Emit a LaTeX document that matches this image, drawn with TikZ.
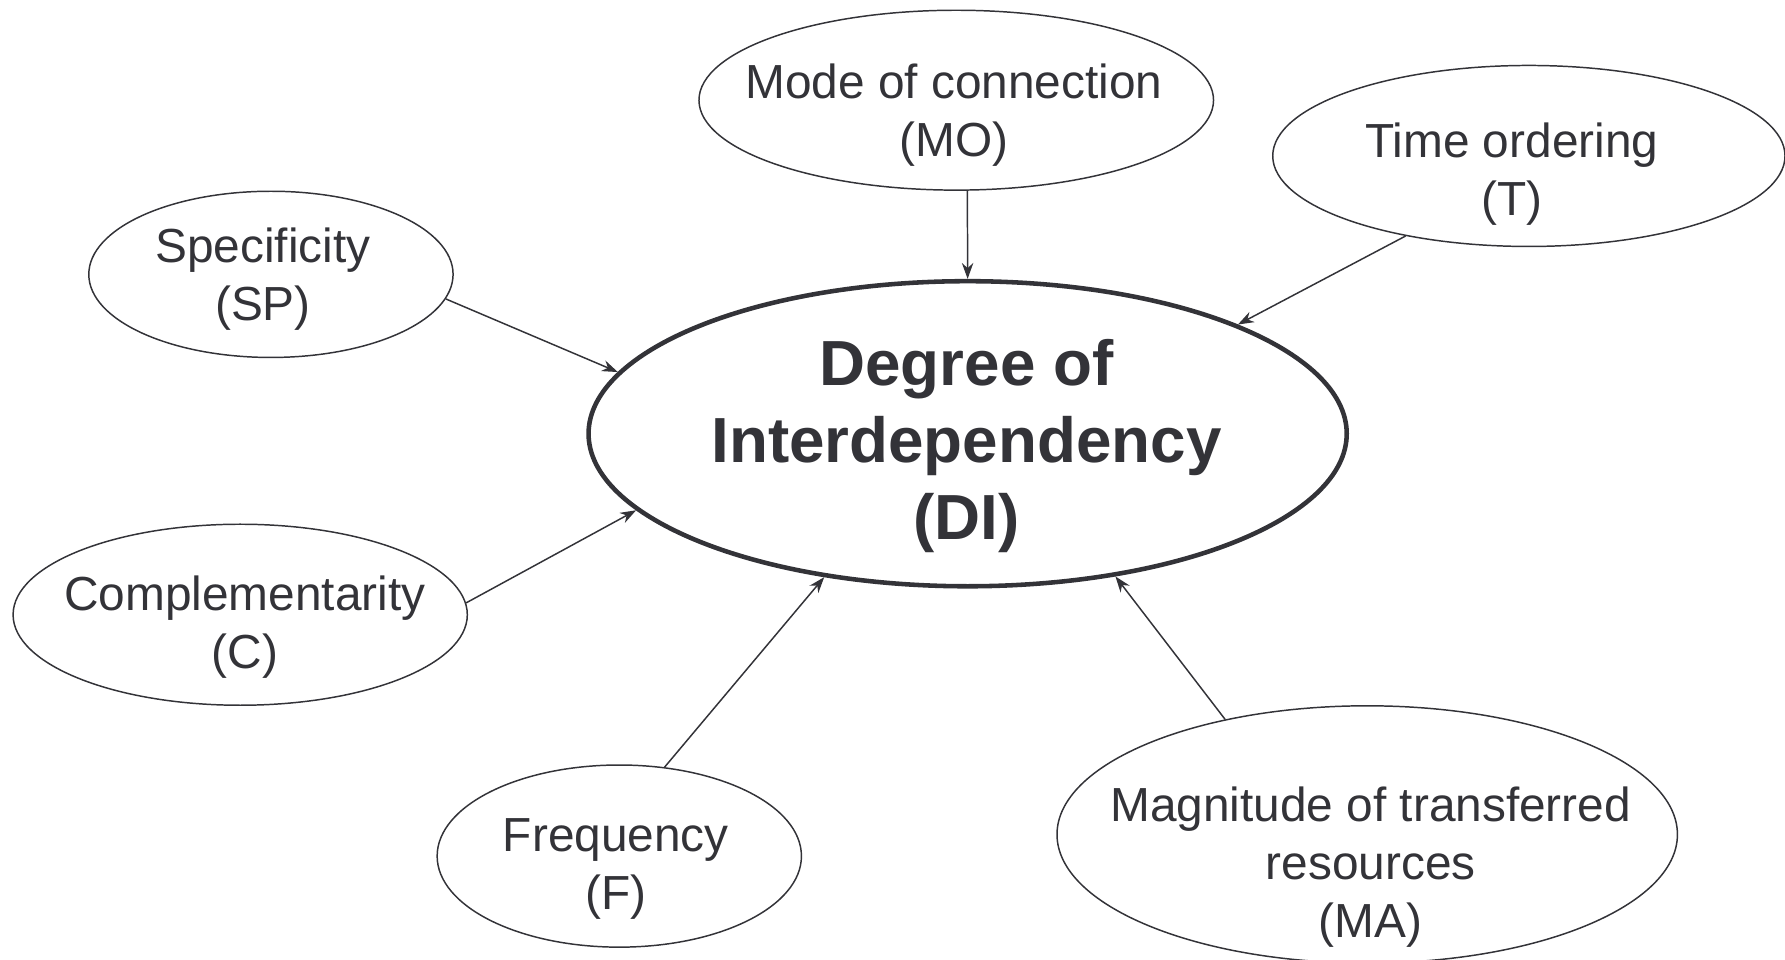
\documentclass[tikz,border=0pt]{standalone}
\usepackage{fontspec}
\setmainfont{Liberation Sans}
\usetikzlibrary{shapes.geometric,arrows.meta}
\definecolor{ink}{HTML}{333338}
\tikzset{
  factor/.style={ellipse, draw=ink, line width=1.3pt, inner sep=0pt},
  core/.style={ellipse, draw=ink, line width=4pt, inner sep=0pt},
  lbl/.style={text=ink, align=center, font=\fontsize{42}{51}\selectfont},
  corelbl/.style={text=ink, align=center, font=\bfseries\fontsize{56}{67.5}\selectfont},
  link/.style={draw=ink, line width=1.3pt, -{Stealth[length=14pt,width=10pt]}}
}
\begin{document}
\begin{tikzpicture}[x=1pt,y=-1pt]
\useasboundingbox (0,0) rectangle (1568,843);
% ellipses
\node[factor, minimum width=452pt, minimum height=158pt] (mo) at (840,88) {};
\node[factor, minimum width=450pt, minimum height=159pt] (t) at (1343,137) {};
\node[factor, minimum width=320pt, minimum height=146pt] (sp) at (238,241) {};
\node[core, minimum width=666pt, minimum height=268pt] (di) at (850,381) {};
\node[factor, minimum width=399pt, minimum height=159pt] (c) at (211,540) {};
\node[factor, minimum width=320pt, minimum height=160pt] (f) at (544,752) {};
\node[factor, minimum width=545pt, minimum height=226pt] (ma) at (1201,733) {};
% labels
\node[lbl] (mot) at (838,101) {Mode of connection\\(MO)};
\node[lbl] (tt) at (1328,153) {Time ordering\\(T)};
\node[lbl] (spt) at (231,245) {Specificity\\(SP)};
\node[corelbl] (dit) at (849,392) {Degree of\\Interdependency\\(DI)};
\node[lbl] (ct) at (215,551) {Complementarity\\(C)};
\node[lbl] (ft) at (541,763) {Frequency\\(F)};
\node[lbl] (mat) at (1204,762) {Magnitude of transferred\\resources\\(MA)};
% connectors
\draw[link] (mo.-83.6) -- (di.90.4);
\draw[link] (t.213.8) -- (di.22.3);
\draw[link] (sp.-8.1) -- (di.170);
\draw[link] (c.3.7) -- (di.193.6);
\draw[link] (f.63.7) -- (di.225);
\draw[link] (ma.141.5) -- (di.-44.8);
\end{tikzpicture}
\end{document}
